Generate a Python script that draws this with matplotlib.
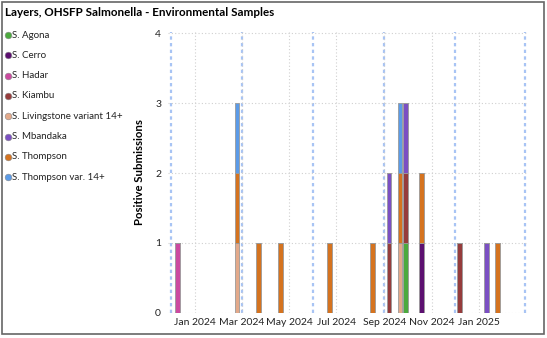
import matplotlib

matplotlib.use("Agg")
import matplotlib.dates as mdates
import matplotlib.pyplot as plt
import numpy as np
from matplotlib.lines import Line2D
from matplotlib.patches import Rectangle

plt.rcParams["font.family"] = ["Lato", "DejaVu Sans"]

# weekly bins (week marker dates) with positive submissions per serotype
weeks = np.array([
    "2023-12-09", "2024-02-24", "2024-03-23", "2024-04-20", "2024-06-22",
    "2024-08-17", "2024-09-07", "2024-09-21", "2024-09-28", "2024-10-19",
    "2024-12-07", "2025-01-11", "2025-01-25",
], dtype="datetime64[D]")

serotypes = [
    "S. Agona", "S. Cerro", "S. Hadar", "S. Kiambu",
    "S. Livingstone variant 14+", "S. Mbandaka", "S. Thompson",
    "S. Thompson var. 14+",
]
colors = ["#4caa3e", "#5c1070", "#cc4aa0", "#963c3c",
          "#e3a98a", "#7b4fc3", "#d5731f", "#5b9be8"]

agona        = [0, 0, 0, 0, 0, 0, 0, 0, 1, 0, 0, 0, 0]
cerro        = [0, 0, 0, 0, 0, 0, 0, 0, 0, 1, 0, 0, 0]
hadar        = [1, 0, 0, 0, 0, 0, 0, 0, 0, 0, 0, 0, 0]
kiambu       = [0, 0, 0, 0, 0, 0, 1, 0, 1, 0, 1, 0, 0]
livingstone  = [0, 1, 0, 0, 0, 0, 0, 1, 0, 0, 0, 0, 0]
mbandaka     = [0, 0, 0, 0, 0, 0, 1, 0, 1, 0, 0, 1, 0]
thompson     = [0, 1, 1, 1, 1, 1, 0, 1, 0, 1, 0, 0, 1]
thompson_var = [0, 1, 0, 0, 0, 0, 0, 1, 0, 0, 0, 0, 0]
counts = [agona, cerro, hadar, kiambu, livingstone, mbandaka, thompson,
          thompson_var]

quarter_lines = np.array(["2023-12-01", "2024-03-01", "2024-06-01",
                          "2024-09-01", "2024-12-01", "2025-03-01"],
                         dtype="datetime64[D]")
month_ticks = np.array(["2024-01-01", "2024-03-01", "2024-05-01",
                        "2024-07-01", "2024-09-01", "2024-11-01",
                        "2025-01-01"], dtype="datetime64[D]")
month_labels = ["Jan 2024", "Mar 2024", "May 2024", "Jul 2024", "Sep 2024",
                "Nov 2024", "Jan 2025"]

W, H = 547, 338
fig = plt.figure(figsize=(W / 100, H / 100), dpi=100)
ax = fig.add_axes([168 / W, (H - 312.7) / H, (527 - 168) / W, (312.7 - 32) / H])

x = mdates.date2num(weeks.astype("datetime64[s]").astype(object))
bottom = np.zeros(len(weeks))
for name, col, vals in zip(serotypes, colors, counts):
    vals = np.array(vals, dtype=float)
    ax.bar(x, vals, bottom=bottom, width=6, color=col, edgecolor="#9a9a9a",
           linewidth=0.6, zorder=3)
    bottom += vals

ax.set_xlim(mdates.date2num(np.datetime64("2023-11-27").astype(object)),
            mdates.date2num(np.datetime64("2025-03-04").astype(object)))
ax.set_ylim(0, 4.02)
ax.set_yticks([0, 1, 2, 3, 4])
ax.set_xticks(mdates.date2num(month_ticks.astype(object)))
ax.set_xticklabels(month_labels)
ax.tick_params(length=0, labelsize=7.5, colors="#222222", pad=4)
ax.tick_params(axis="y", pad=5)
ax.grid(True, color="#d0d0d0", linestyle=(0, (1, 2)), linewidth=0.8, zorder=0)
for q in quarter_lines:
    ax.axvline(mdates.date2num(q.astype(object)), color="#a8c4f4",
               linestyle=(0, (1.5, 1.5)), linewidth=1.6, zorder=1)
for s in ax.spines.values():
    s.set_visible(False)

ax.set_ylabel("Positive Submissions", fontsize=8.2, fontweight="bold",
              labelpad=7)

fig.text(5 / W, 1 - 13 / H, "Layers, OHSFP Salmonella - Environmental Samples",
         fontsize=8.4, fontweight="bold", va="center", ha="left")

# legend
for i, (name, col) in enumerate(zip(serotypes, colors)):
    y = 1 - (35 + 20.3 * i) / H
    fig.add_artist(Line2D([8 / W], [y], marker="o", markersize=4.8,
                          color=col, markeredgecolor="#888888",
                          markeredgewidth=0.4, transform=fig.transFigure))
    fig.text(12.5 / W, y, name, fontsize=7.0, va="center", ha="left",
             color="#222222")

fig.add_artist(Rectangle((1.5 / W, 4.5 / H), (544 - 1.5) / W, (H - 6) / H,
                         transform=fig.transFigure, fill=False,
                         edgecolor="#666666", linewidth=1.2))

fig.savefig("out.png", dpi=100)
